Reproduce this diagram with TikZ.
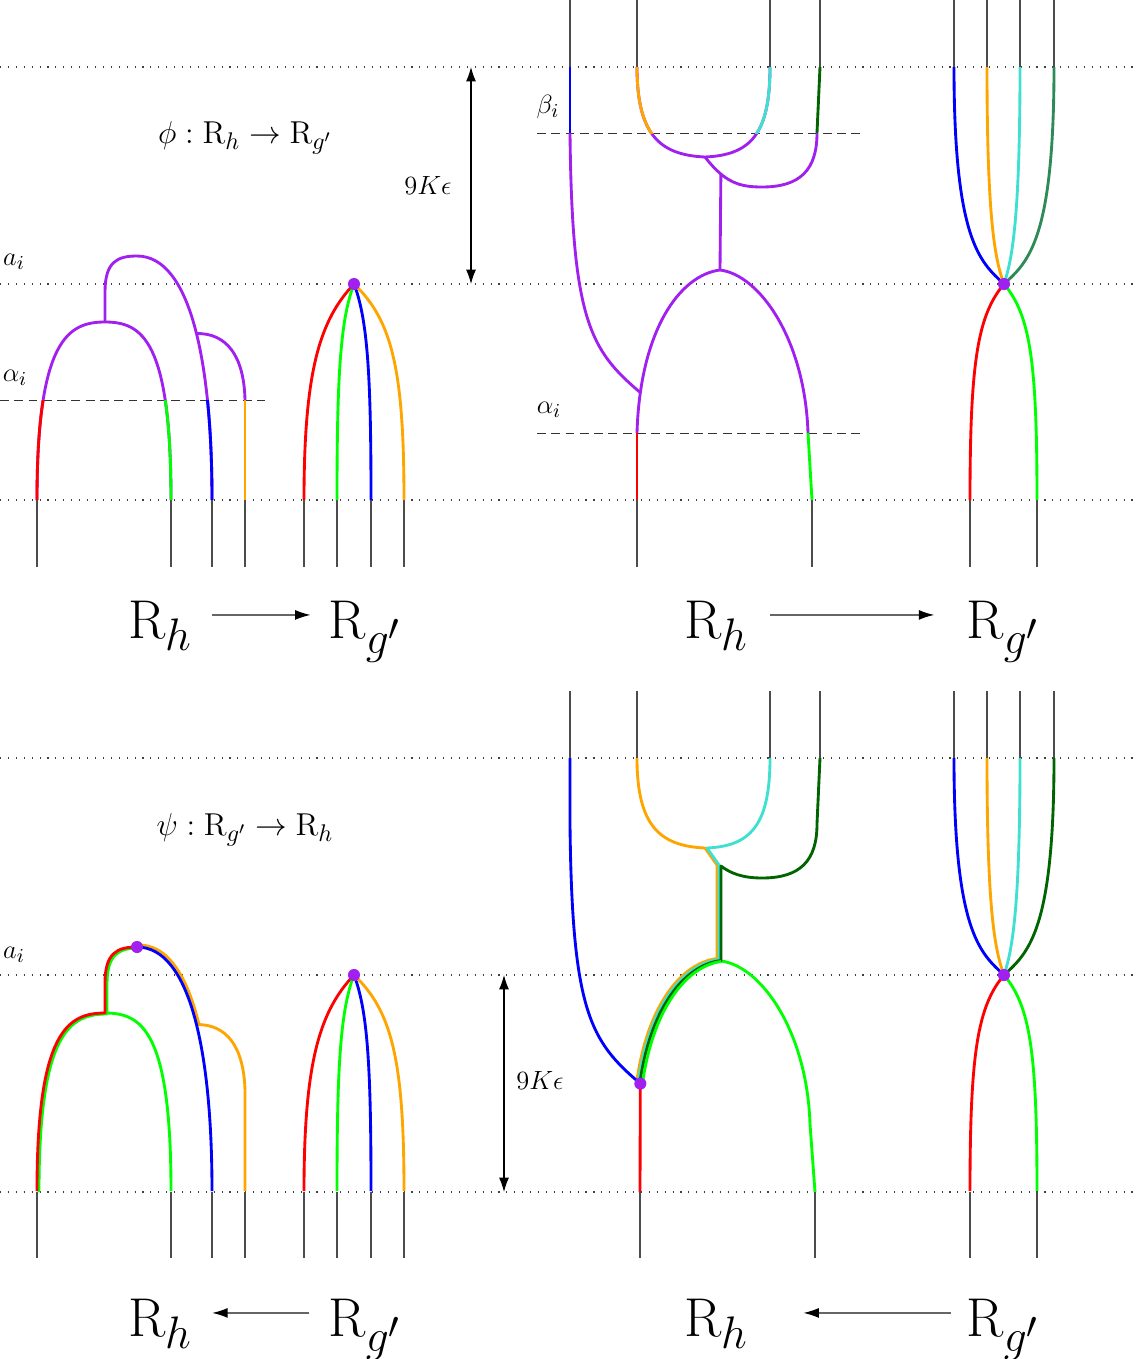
\documentclass[tikz,border=0pt]{standalone}
\usepackage{amsmath,amssymb}
\usetikzlibrary{arrows.meta,positioning}

\definecolor{lanepurple}{RGB}{160,32,240}
\definecolor{lanegreen}{RGB}{0,255,0}
\definecolor{laneorange}{RGB}{255,165,0}
\definecolor{lanecyan}{RGB}{64,224,208}
\definecolor{lanedkgreen}{RGB}{0,100,0}
\definecolor{laneseagreen}{RGB}{46,139,87}

\begin{document}
\begin{tikzpicture}[x=0.455pt,y=-0.455pt,>={Latex[length=6.5pt,width=4.5pt]},
    lane/.style={line width=1.3pt,line join=round},
    stub/.style={black!70,line width=0.5pt},
    level/.style={black!75,line width=0.5pt,dash pattern=on 0.5pt off 3.1pt},
    cutline/.style={black!80,line width=0.4pt,dash pattern=on 4pt off 2.5pt},
    junction/.style={circle,fill=lanepurple,inner sep=0pt,minimum size=5.5pt},
    tag/.style={font=\fontsize{13}{16}\selectfont},
    title/.style={font=\fontsize{15.5}{19}\selectfont},
    bigR/.style={font=\Huge,text height=21pt,text depth=0pt,inner sep=0pt},
    maparrow/.style={-{Latex[length=7pt,width=4.5pt,color=black]},black!60,line width=0.6pt}]
  \useasboundingbox (0,0) rectangle (1138,1359);

  % levels
  \foreach \y in {67,284,500,758,975,1192}
    \draw[level] (0,\y) -- (1138,\y);

  % strands in and out
  \foreach \x in {37,171,212,245,304,337,371,404} {
    \draw[stub] (\x,500) -- (\x,567);
    \draw[stub] (\x,1192) -- (\x,1258);
  }
  \foreach \x in {570,637,770,820,954,987,1020,1054} {
    \draw[stub] (\x,0) -- (\x,67);
    \draw[stub] (\x,691) -- (\x,758);
  }
  \foreach \x/\xx in {637/640,812/815,970/970,1037/1037} {
    \draw[stub] (\x,500) -- (\x,567);
    \draw[stub] (\xx,1192) -- (\xx,1258);
  }

  % labels
  \node[title] (phi) at (245,138) {$\phi:\mathrm{R}_h\rightarrow\mathrm{R}_{g'}$};
  \node[title] (psi) at (245,830) {$\psi:\mathrm{R}_{g'}\rightarrow\mathrm{R}_h$};
  \node[tag] (aone) at (14,262) {$a_i$};
  \node[tag] (alone) at (15,378) {$\alpha_i$};
  \node[tag] (atwo) at (14,955) {$a_i$};
  \node[tag] (beta) at (548,107) {$\beta_i$};
  \node[tag] (altwo) at (549,410) {$\alpha_i$};
  \draw[cutline] (0,400) -- (265,400);
  \draw[cutline] (537,133) -- (862,133);
  \draw[cutline] (537,433) -- (862,433);

  \node[tag] (gapone) at (428,185) {$9K\epsilon$};
  \coordinate (gaponet) at (471,67);
  \coordinate (gaponeb) at (471,284);
  \draw[<->,line width=0.5pt] (gaponet) -- (gaponeb);
  \node[tag] (gaptwo) at (540,1080) {$9K\epsilon$};
  \coordinate (gaptwot) at (504,975);
  \coordinate (gaptwob) at (504,1192);
  \draw[<->,line width=0.5pt] (gaptwot) -- (gaptwob);

  % phi, left
  \draw[lane,lanepurple] (37,500) .. controls (37,340) and (68,322) .. (105,322)
    .. controls (142,322) and (171,340) .. (171,500);
  \draw[lane,lanepurple] (105,322) -- (105,292) .. controls (105,262) and (117,256) .. (137,256)
    .. controls (190,256) and (212,360) .. (212,500) coordinate[pos=0.53] (brone);
  \draw[lane,lanepurple] (brone) .. controls (226,333) and (244,355) .. (245,400);
  \draw[lane,laneorange] (245,400) -- (245,500);
  \begin{scope}
    \clip (0,400) rectangle (300,501);
    \draw[lane,red] (37,500) .. controls (37,340) and (68,322) .. (105,322);
    \draw[lane,lanegreen] (105,322) .. controls (142,322) and (171,340) .. (171,500);
    \draw[lane,blue] (137,256) .. controls (190,256) and (212,360) .. (212,500);
  \end{scope}

  % psi, left
  \begin{scope}[shift={(0,691)}]
    \draw[lane,lanegreen] (105,322) .. controls (142,322) and (171,340) .. (171,500);
    \draw[lane,lanegreen,shift={(2,1)}] (37,500) .. controls (37,340) and (68,322) .. (105,322)
      -- (105,292) .. controls (105,262) and (117,256) .. (137,256);
    \draw[lane,red] (37,500) .. controls (37,340) and (68,322) .. (105,322)
      -- (105,292) .. controls (105,262) and (117,256) .. (137,256);
    \path (137,256) .. controls (190,256) and (212,360) .. (212,500) coordinate[pos=0.53] (brtwo);
    \begin{scope}
      \clip (120,200) rectangle (230,334);
      \draw[lane,laneorange,shift={(2,-2)}] (137,256) .. controls (190,256) and (212,360) .. (212,500);
    \end{scope}
    \draw[lane,laneorange] (brtwo) .. controls (226,333) and (244,355) .. (245,400) -- (245,500);
    \draw[lane,blue] (137,256) .. controls (190,256) and (212,360) .. (212,500);
    \node[junction] (topdot) at (137,256) {};
  \end{scope}

  % small fans
  \foreach \dy in {0,691} {
    \begin{scope}[shift={(0,\dy)}]
      \coordinate (fan) at (354,284);
      \draw[lane,red] (fan) .. controls (320,320) and (304,370) .. (304,500);
      \draw[lane,lanegreen] (fan) .. controls (340,320) and (337,380) .. (337,500);
      \draw[lane,blue] (fan) .. controls (368,320) and (371,380) .. (371,500);
      \draw[lane,laneorange] (fan) .. controls (392,320) and (404,370) .. (404,500);
      \node[junction] (fandot) at (fan) {};
    \end{scope}
  }

  % phi, middle
  \draw[lane,blue] (570,67) -- (570,133);
  \draw[lane,lanepurple] (720,270) .. controls (680,275) and (640,330) .. (637,433)
    coordinate[pos=0.86] (mone);
  \draw[lane,lanepurple] (720,270) .. controls (760,275) and (805,340) .. (808,433);
  \draw[lane,red] (637,433) -- (637,500);
  \draw[lane,lanegreen] (808,433) -- (812,500);
  \draw[lane,lanepurple] (570,133) .. controls (572,320) and (590,350) .. (mone);
  \draw[lane,lanepurple] (637,67) .. controls (637,135) and (660,155) .. (705,157)
    .. controls (750,155) and (770,135) .. (770,67);
  \draw[lane,lanepurple] (705,157) .. controls (725,183) and (740,187) .. (762,187)
    coordinate[pos=0.28] (vone) .. controls (800,187) and (817,170) .. (817,133);
  \draw[lane,lanedkgreen] (820,67) -- (817,133);
  \draw[lane,lanepurple] (vone) -- (720,270);
  \begin{scope}
    \clip (600,67) rectangle (800,133);
    \draw[lane,laneorange] (637,67) .. controls (637,135) and (660,155) .. (705,157);
    \draw[lane,lanecyan] (705,157) .. controls (750,155) and (770,135) .. (770,67);
  \end{scope}

  % psi, middle
  \begin{scope}[shift={(0,691)}]
    \path (720,270) .. controls (680,275) and (640,330) .. (637,433) coordinate[pos=0.86] (mtwo);
    \draw[lane,lanegreen] (721,270) .. controls (761,275) and (807,340) .. (810,433) -- (815,501);
    \begin{scope}
      \clip (560,0) -- (900,0) -- (900,520) -- (722,520) -- (722,393) -- (560,393) -- cycle;
      \draw[lane,laneorange] (637,67) .. controls (637,135) and (660,155) .. (705,157)
        -- (717,174) -- (717,267.5) .. controls (676.5,272.5) and (636.5,327.5) .. (633.5,430.5);
      \draw[lane,lanecyan] (770,67) .. controls (770,135) and (750,155) .. (707,157)
        -- (719,174) -- (719,268.5) .. controls (678,273.5) and (638,328.5) .. (635,431.5);
      \draw[lane,lanedkgreen] (820,67) -- (817,133) .. controls (817,170) and (800,187) .. (762,187)
        .. controls (742,187) and (730,182) .. (721,175) -- (721,269.5)
        .. controls (679.5,274.5) and (639.5,329.5) .. (636.5,432.5);
      \draw[lane,lanegreen] (721,270.5) .. controls (682,275.5) and (642,330.5) .. (639,433.5);
    \end{scope}
    \draw[lane,red] (mtwo) -- (640,501);
    \draw[lane,blue] (570,67) -- (570,133) .. controls (572,320) and (590,350) .. (mtwo);
    \node[junction] (middot) at (mtwo) {};
  \end{scope}

  % right fans
  \foreach \dy/\lastc in {0/laneseagreen,691/lanedkgreen} {
    \begin{scope}[shift={(0,\dy)}]
      \coordinate (knot) at (1004,284);
      \draw[lane,blue] (954,67) .. controls (954,240) and (980,262) .. (knot);
      \draw[lane,laneorange] (987,67) .. controls (987,220) and (995,260) .. (knot);
      \draw[lane,lanecyan] (1020,67) .. controls (1020,220) and (1012,260) .. (knot);
      \draw[lane,\lastc] (1054,67) .. controls (1054,240) and (1028,262) .. (knot);
      \draw[lane,red] (knot) .. controls (978,315) and (970,360) .. (970,500);
      \draw[lane,lanegreen] (knot) .. controls (1030,315) and (1037,360) .. (1037,500);
      \node[junction] (knotdot) at (knot) {};
    \end{scope}
  }

  % maps
  \node[bigR,anchor=base] (rhone) at (160,638) {$\mathrm{R}_h$};
  \node[bigR,anchor=base] (rgone) at (365,638) {$\mathrm{R}_{g'}$};
  \node[bigR,anchor=base] (rhtwo) at (716,638) {$\mathrm{R}_h$};
  \node[bigR,anchor=base] (rgtwo) at (1003,638) {$\mathrm{R}_{g'}$};
  \node[bigR,anchor=base] (rhthree) at (160,1336) {$\mathrm{R}_h$};
  \node[bigR,anchor=base] (rgthree) at (365,1336) {$\mathrm{R}_{g'}$};
  \node[bigR,anchor=base] (rhfour) at (716,1336) {$\mathrm{R}_h$};
  \node[bigR,anchor=base] (rgfour) at (1003,1336) {$\mathrm{R}_{g'}$};
  \draw[maparrow,shorten <=9pt,shorten >=8pt] (rhone) -- (rgone);
  \draw[maparrow,shorten <=10pt,shorten >=14.5pt] (rhtwo) -- (rgtwo);
  \draw[maparrow,shorten <=8.5pt,shorten >=9pt] (rgthree) -- (rhthree);
  \draw[maparrow,shorten <=7pt,shorten >=25pt] (rgfour) -- (rhfour);
\end{tikzpicture}
\end{document}
